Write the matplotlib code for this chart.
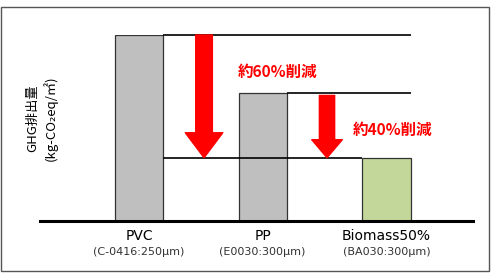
import matplotlib
matplotlib.use("Agg")
import matplotlib.pyplot as plt
from matplotlib.patches import Rectangle

plt.rcParams['font.family'] = ['DejaVu Sans', 'Noto Sans CJK JP']

categories = ["PVC", "PP", "Biomass50%"]
subtitles = ["(C-0416:250μm)", "(E0030:300μm)", "(BA030:300μm)"]
values = [100, 69, 34]
bar_colors = ["#bfbfbf", "#bfbfbf", "#c4d79b"]
reduction_labels = ["約60%削減", "約40%削減"]
ylabel_lines = ["GHG排出量", "(kg-CO₂eq/㎡)"]

W = 0.39
fig = plt.figure(figsize=(4.92, 2.80), dpi=100)
ax = fig.add_axes([40/492, 1-221/280, 433/492, 186/280])
ax.set_xlim(-0.80, 2.70)
ax.set_ylim(0, 100)

x = list(range(len(categories)))
ax.bar(x, values, width=W, color=bar_colors, edgecolor="#333333", linewidth=0.9, zorder=2)

# reference lines
lk = dict(color="black", linewidth=1.2, zorder=3, clip_on=False)
ax.hlines(values[0], x[0] + W/2, x[2] + W/2, **lk)
ax.hlines(values[1], x[1] + W/2, x[2] + W/2, **lk)
ax.hlines(values[2], x[0] + W/2, x[2] - W/2, **lk)

# arrows
ax.annotate("", xy=(0.526, values[2]), xytext=(0.526, values[0]),
            arrowprops=dict(arrowstyle="simple,head_width=27,head_length=18,tail_width=12",
                            mutation_scale=1, color="#ff0000", shrinkA=0, shrinkB=0), zorder=4)
ax.annotate("", xy=(1.52, values[2]), xytext=(1.52, values[1] - 1.5),
            arrowprops=dict(arrowstyle="simple,head_width=22,head_length=13,tail_width=11",
                            mutation_scale=1, color="#ff0000", shrinkA=0, shrinkB=0), zorder=4)

tk = dict(color="#ff0000", fontweight="bold", fontsize=11.2, ha="left", va="center",
          family=["Noto Sans CJK JP", "DejaVu Sans"])
ax.text(0.80, 80.1, reduction_labels[0], **tk)
ax.text(1.725, 48.9, reduction_labels[1], **tk)

# category labels
for xi, c, s in zip(x, categories, subtitles):
    ax.text(xi, -0.081, c, transform=ax.get_xaxis_transform(), ha="center", va="center",
            fontsize=10, color="black")
    ax.text(xi, -0.167, s, transform=ax.get_xaxis_transform(), ha="center", va="center",
            fontsize=8, color="#333333")

for sp in ["top", "right", "left"]:
    ax.spines[sp].set_visible(False)
ax.spines["bottom"].set_linewidth(2.2)
ax.spines["bottom"].set_color("black")
ax.set_xticks([])
ax.set_yticks([])

fig.text(33/492, 1-118/280, ylabel_lines[0], rotation=90, ha="center", va="center",
         fontsize=9.5, family=["Noto Sans CJK JP", "DejaVu Sans"])
fig.text(50/492, 1-118/280, ylabel_lines[1], rotation=90, ha="center", va="center",
         fontsize=9.5, family=["Noto Sans CJK JP", "DejaVu Sans"])

fig.patches.append(Rectangle((1/492, 1-271/280), 488/492, 264/280, transform=fig.transFigure,
                             fill=False, edgecolor="#555555", linewidth=1.0))

fig.savefig("out.png", dpi=100)
